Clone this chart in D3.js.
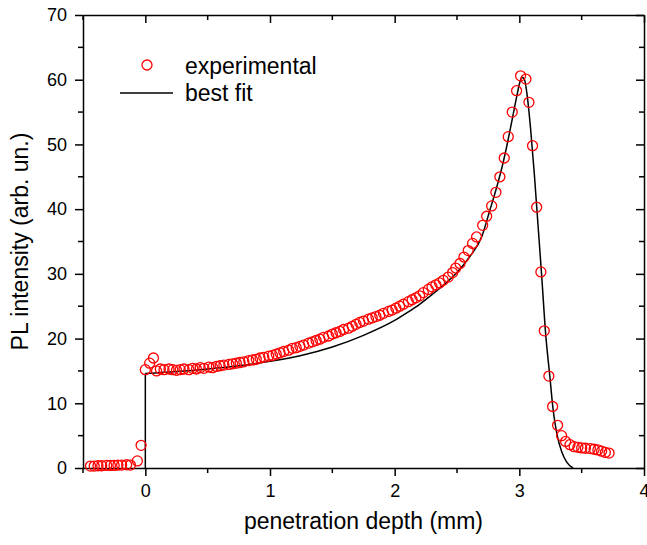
<!DOCTYPE html>
<html>
<head>
<meta charset="utf-8">
<script src="https://cdn.jsdelivr.net/npm/d3@7"></script>
<style>
  body { margin: 0; background: #fff; }
  text { font-family: "Liberation Sans", Arial, sans-serif; }
</style>
</head>
<body>
<div class="canvas"></div>
<script>
// experimental points (depth in mm, PL intensity)
const depthExp = [
  -0.44, -0.41, -0.38, -0.35, -0.31, -0.28, -0.25, -0.22, -0.19, -0.15, -0.12, -0.064, -0.034,
  0.0, 0.035, 0.065,
  0.09, 0.12, 0.15, 0.19, 0.22, 0.25, 0.28, 0.31, 0.35, 0.38, 0.41, 0.44, 0.47, 0.51, 0.54, 0.57,
  0.60, 0.63, 0.67, 0.70, 0.73, 0.76, 0.79, 0.83, 0.86, 0.89, 0.92, 0.95, 0.99, 1.02, 1.05, 1.08,
  1.11, 1.15, 1.18, 1.21, 1.24, 1.27, 1.31, 1.34, 1.37, 1.40, 1.43, 1.47, 1.50, 1.53, 1.56, 1.59,
  1.63, 1.66, 1.69, 1.72, 1.75, 1.79, 1.82, 1.85, 1.88, 1.91, 1.95, 1.98, 2.01, 2.04, 2.07, 2.11,
  2.14, 2.17, 2.20, 2.23, 2.27, 2.30, 2.33, 2.36, 2.39,
  2.43, 2.465, 2.49, 2.524, 2.556, 2.59, 2.625, 2.657, 2.706, 2.738, 2.778, 2.812, 2.844, 2.879,
  2.911, 2.943, 2.978, 3.01, 3.053, 3.077, 3.106, 3.139, 3.173, 3.2, 3.237, 3.267, 3.307, 3.339,
  3.371, 3.406, 3.44, 3.47, 3.50, 3.53, 3.57, 3.60, 3.63, 3.66, 3.69, 3.72
]
const intensityExp = [
  0.3, 0.3, 0.35, 0.35, 0.4, 0.4, 0.4, 0.45, 0.45, 0.5, 0.45, 1.1, 3.5,
  15.2, 16.2, 17.0,
  15.0, 15.3, 15.2, 15.3, 15.2, 15.1, 15.2, 15.3, 15.2, 15.4, 15.3, 15.5, 15.4, 15.6, 15.5, 15.7,
  15.8, 15.9, 16.0, 16.1, 16.2, 16.3, 16.4, 16.6, 16.7, 16.8, 17.0, 17.1, 17.3, 17.4, 17.6, 17.8,
  18.0, 18.2, 18.5, 18.6, 18.8, 19.0, 19.3, 19.5, 19.7, 19.9, 20.2, 20.4, 20.7, 20.9, 21.1, 21.4,
  21.6, 21.9, 22.2, 22.5, 22.7, 23.0, 23.2, 23.4, 23.6, 23.9, 24.2, 24.4, 24.7, 25.0, 25.3, 25.7,
  26.0, 26.3, 26.6, 27.1, 27.6, 28.0, 28.3, 28.6, 29.0,
  29.5, 30.2, 30.9, 31.6, 32.6, 33.6, 34.7, 35.7, 37.5, 38.9, 40.5, 42.6, 45.0, 47.9,
  51.2, 55.0, 58.3, 60.6, 60.1, 56.5, 49.8, 40.3, 30.3, 21.2, 14.2, 9.5, 6.6, 5.0,
  4.1, 3.6, 3.3, 3.2, 3.1, 3.05, 3.0, 2.9, 2.8, 2.6, 2.4, 2.3
]

// best fit curve (starts with a vertical edge at depth 0)
const depthFit = [0, 0, 0.25, 0.5, 0.75, 1.0, 1.25, 1.5, 1.75, 2.0, 2.1, 2.2, 2.3, 2.4, 2.5, 2.6, 2.7,
  2.76, 2.82, 2.86, 2.9, 2.94, 2.98, 3.0, 3.02, 3.04, 3.06, 3.09, 3.12, 3.15, 3.18, 3.21, 3.245,
  3.27, 3.3, 3.34, 3.38, 3.43]
const intensityFit = [0, 14.6, 14.9, 15.3, 15.8, 16.5, 17.4, 18.7, 20.5, 22.8, 24.0, 25.3, 26.8, 28.4, 30.2, 32.6, 35.8,
  39.6, 43.5, 46.4, 49.8, 53.6, 57.5, 59.3, 60.4, 60.1, 58.0, 52.5, 45.5, 37.5, 29.5, 21.0, 14.1,
  9.2, 5.4, 2.5, 0.9, 0]

const xTicks = [0, 1, 2, 3, 4]
const yTicks = [0, 10, 20, 30, 40, 50, 60, 70]

const dims = {width: 647, height: 545}
const margin = {top: 15, right: 3, bottom: 77, left: 83}
const w = dims.width - margin.left - margin.right
const h = dims.height - margin.top - margin.bottom

const svg = d3.select('.canvas')
    .append('svg')
    .attr('width', dims.width)
    .attr('height', dims.height)

const graph = svg.append('g')
    .attr('transform', `translate(${margin.left}, ${margin.top})`)

const x = d3.scaleLinear().domain([-0.5, 4]).range([0, w])
const y = d3.scaleLinear().domain([0, 70]).range([h, 0])

const minorX = d3.range(-0.5, 4.01, 0.5).filter(v => !xTicks.includes(v))
const minorY = d3.range(5, 70, 10)

// axes: bottom/left outward with labels, top/right inward mirror
const styleAxis = g => {
    g.select('.domain').attr('stroke', '#000').attr('stroke-width', 1.5)
    g.selectAll('.tick line').attr('stroke', '#000').attr('stroke-width', 1.5)
    g.selectAll('.tick text').attr('font-size', 18).attr('fill', '#000')
        .style('font-family', '"Liberation Sans", Arial, sans-serif')
}

const addMinor = (g, scale, vals, orient, len) => {
    g.selectAll('.minor').data(vals).enter().append('line')
        .attr('class', 'minor')
        .attr('stroke', '#000').attr('stroke-width', 1.5)
        .each(function(d) {
            const s = d3.select(this)
            if (orient === 'x') s.attr('x1', scale(d)).attr('x2', scale(d)).attr('y1', 0).attr('y2', len)
            else s.attr('y1', scale(d)).attr('y2', scale(d)).attr('x1', 0).attr('x2', len)
        })
}

const gx = graph.append('g').attr('transform', `translate(0, ${h})`)
    .call(d3.axisBottom(x).tickValues(xTicks).tickSize(8).tickPadding(8).tickSizeOuter(0).tickFormat(d3.format('d')))
styleAxis(gx)
addMinor(gx, x, minorX, 'x', 5)

const gy = graph.append('g')
    .call(d3.axisLeft(y).tickValues(yTicks).tickSize(8).tickPadding(8).tickSizeOuter(0))
styleAxis(gy)
addMinor(gy, y, minorY, 'y', -5)

const gt = graph.append('g')
    .call(d3.axisTop(x).tickValues(xTicks).tickSize(-8).tickSizeOuter(0).tickFormat(''))
styleAxis(gt)
addMinor(gt, x, minorX, 'x', 5)

const gr = graph.append('g').attr('transform', `translate(${w}, 0)`)
    .call(d3.axisRight(y).tickValues(yTicks).tickSize(-8).tickSizeOuter(0).tickFormat(''))
styleAxis(gr)
addMinor(gr, y, minorY, 'y', -5)

// axis titles
svg.append('text')
    .attr('x', margin.left + w / 2)
    .attr('y', 529)
    .attr('text-anchor', 'middle')
    .attr('font-size', 23)
    .text('penetration depth (mm)')

svg.append('text')
    .attr('transform', `translate(28, ${margin.top + h / 2}) rotate(-90)`)
    .attr('text-anchor', 'middle')
    .attr('font-size', 23)
    .text('PL intensity (arb. un.)')

// fit line: vertical edge, then smooth curve
const fitData = depthFit.map((d, i) => ({x: d, y: intensityFit[i]}))
const edge = d3.line().x(d => x(d.x)).y(d => y(d.y))
const curve = d3.line()
    .x(d => x(d.x))
    .y(d => y(d.y))
    .curve(d3.curveMonotoneX)

graph.append('path')
    .datum(fitData.slice(0, 2))
    .attr('fill', 'none')
    .attr('stroke', '#000')
    .attr('stroke-width', 1.5)
    .attr('d', edge)

graph.append('path')
    .datum(fitData.slice(1))
    .attr('fill', 'none')
    .attr('stroke', '#000')
    .attr('stroke-width', 1.5)
    .attr('d', curve)

// experimental circles
const expData = depthExp.map((d, i) => ({x: d, y: intensityExp[i]}))
graph.selectAll('circle.exp')
    .data(expData)
    .enter().append('circle')
    .attr('class', 'exp')
    .attr('cx', d => x(d.x))
    .attr('cy', d => y(d.y))
    .attr('r', 5)
    .attr('fill', 'none')
    .attr('stroke', '#ff0000')
    .attr('stroke-width', 1.3)

// legend
const legend = svg.append('g')
legend.append('circle')
    .attr('cx', 147).attr('cy', 65).attr('r', 5)
    .attr('fill', 'none').attr('stroke', '#ff0000').attr('stroke-width', 1.3)
legend.append('text')
    .attr('x', 185).attr('y', 74)
    .attr('font-size', 23)
    .text('experimental')
legend.append('line')
    .attr('x1', 120).attr('x2', 173).attr('y1', 93).attr('y2', 93)
    .attr('stroke', '#000').attr('stroke-width', 1.5)
legend.append('text')
    .attr('x', 185).attr('y', 101)
    .attr('font-size', 23)
    .text('best fit')
</script>
</body>
</html>
